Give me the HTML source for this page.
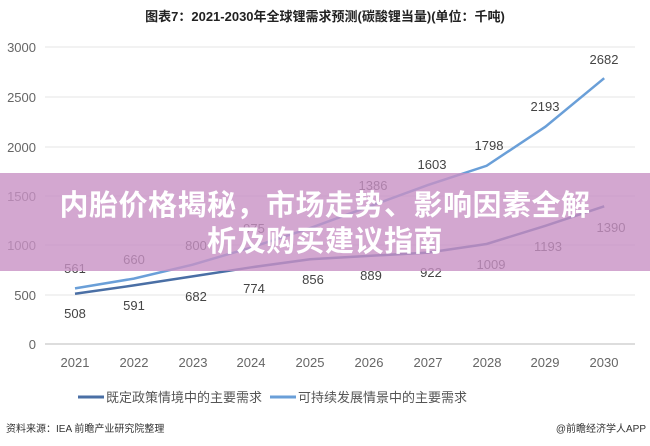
<!DOCTYPE html>
<html><head><meta charset="utf-8"><style>
body{margin:0;width:650px;height:446px;overflow:hidden;background:#fff;font-family:"Liberation Sans","Noto Sans CJK SC",sans-serif}
.ban{position:absolute;left:0;top:173px;width:650px;height:98px;background:rgba(200,145,196,0.8);color:#fff;font-weight:bold;font-size:29px;letter-spacing:0.5px;text-align:center;line-height:36px;padding-top:12px;box-sizing:border-box;font-family:"Noto Sans CJK SC",sans-serif;white-space:nowrap}
</style></head><body>
<svg width="650" height="446" style="position:absolute;left:0;top:0" font-family="Liberation Sans, Noto Sans CJK SC, sans-serif">
<text x="325" y="21" text-anchor="middle" font-size="13" font-weight="bold" fill="#222">图表7：2021-2030年全球锂需求预测(碳酸锂当量)(单位：千吨)</text>
<g stroke="#e4e4e4" stroke-width="1">
<line x1="45" y1="47" x2="635" y2="47"/><line x1="45" y1="97" x2="635" y2="97"/><line x1="45" y1="147" x2="635" y2="147"/><line x1="45" y1="196" x2="635" y2="196"/><line x1="45" y1="245" x2="635" y2="245"/><line x1="45" y1="295" x2="635" y2="295"/></g>
<line x1="45" y1="344" x2="635" y2="344" stroke="#bbb"/>
<g font-size="13" fill="#666" text-anchor="end">
<text x="36" y="52">3000</text><text x="36" y="102">2500</text><text x="36" y="152">2000</text><text x="36" y="201">1500</text><text x="36" y="250">1000</text><text x="36" y="300">500</text><text x="36" y="349">0</text></g>
<g font-size="13" fill="#666" text-anchor="middle">
<text x="75" y="367">2021</text><text x="134" y="367">2022</text><text x="193" y="367">2023</text><text x="251" y="367">2024</text><text x="310" y="367">2025</text><text x="369" y="367">2026</text><text x="428" y="367">2027</text><text x="487" y="367">2028</text><text x="545" y="367">2029</text><text x="604" y="367">2030</text></g>
<polyline fill="none" stroke="#4a6fa5" stroke-width="2.5" points="75,293.7 133.8,285.4 192.6,276.4 251.4,267.3 310.2,259.2 369,255.9 427.8,252.6 486.6,244 545.4,225.8 604.2,206.3"/>
<polyline fill="none" stroke="#6a9fd8" stroke-width="2.5" points="75,288.4 133.8,278.6 192.6,264.7 251.4,247.4 310.2,228.1 369,206.6 427.8,185.1 486.6,165.8 545.4,126.7 604.2,78.2"/>
<g font-size="13" fill="#444" text-anchor="middle">
<text x="75" y="318">508</text><text x="134" y="310">591</text><text x="196" y="301">682</text><text x="254" y="293">774</text><text x="313" y="284">856</text><text x="371" y="280">889</text><text x="431" y="277">922</text><text x="491" y="269">1009</text><text x="548" y="251">1193</text><text x="611" y="232">1390</text>
<text x="75" y="273">561</text><text x="134" y="264">660</text><text x="196" y="250">800</text><text x="254" y="233">975</text><text x="373" y="190">1386</text><text x="432" y="169">1603</text><text x="489" y="150">1798</text><text x="545" y="111">2193</text><text x="604" y="64">2682</text></g>
<line x1="78" y1="397" x2="104" y2="397" stroke="#4a6fa5" stroke-width="3"/>
<text x="106" y="402" font-size="13" fill="#555">既定政策情境中的主要需求</text>
<line x1="270" y1="397" x2="296" y2="397" stroke="#6a9fd8" stroke-width="3"/>
<text x="298" y="402" font-size="13" fill="#555">可持续发展情景中的主要需求</text>
<text x="6" y="432" font-size="10" fill="#333">资料来源：IEA 前瞻产业研究院整理</text>
<text x="646" y="432" font-size="10" fill="#333" text-anchor="end">@前瞻经济学人APP</text>
</svg>
<div class="ban">内胎价格揭秘，市场走势、影响因素全解<br>析及购买建议指南</div>
</body></html>
